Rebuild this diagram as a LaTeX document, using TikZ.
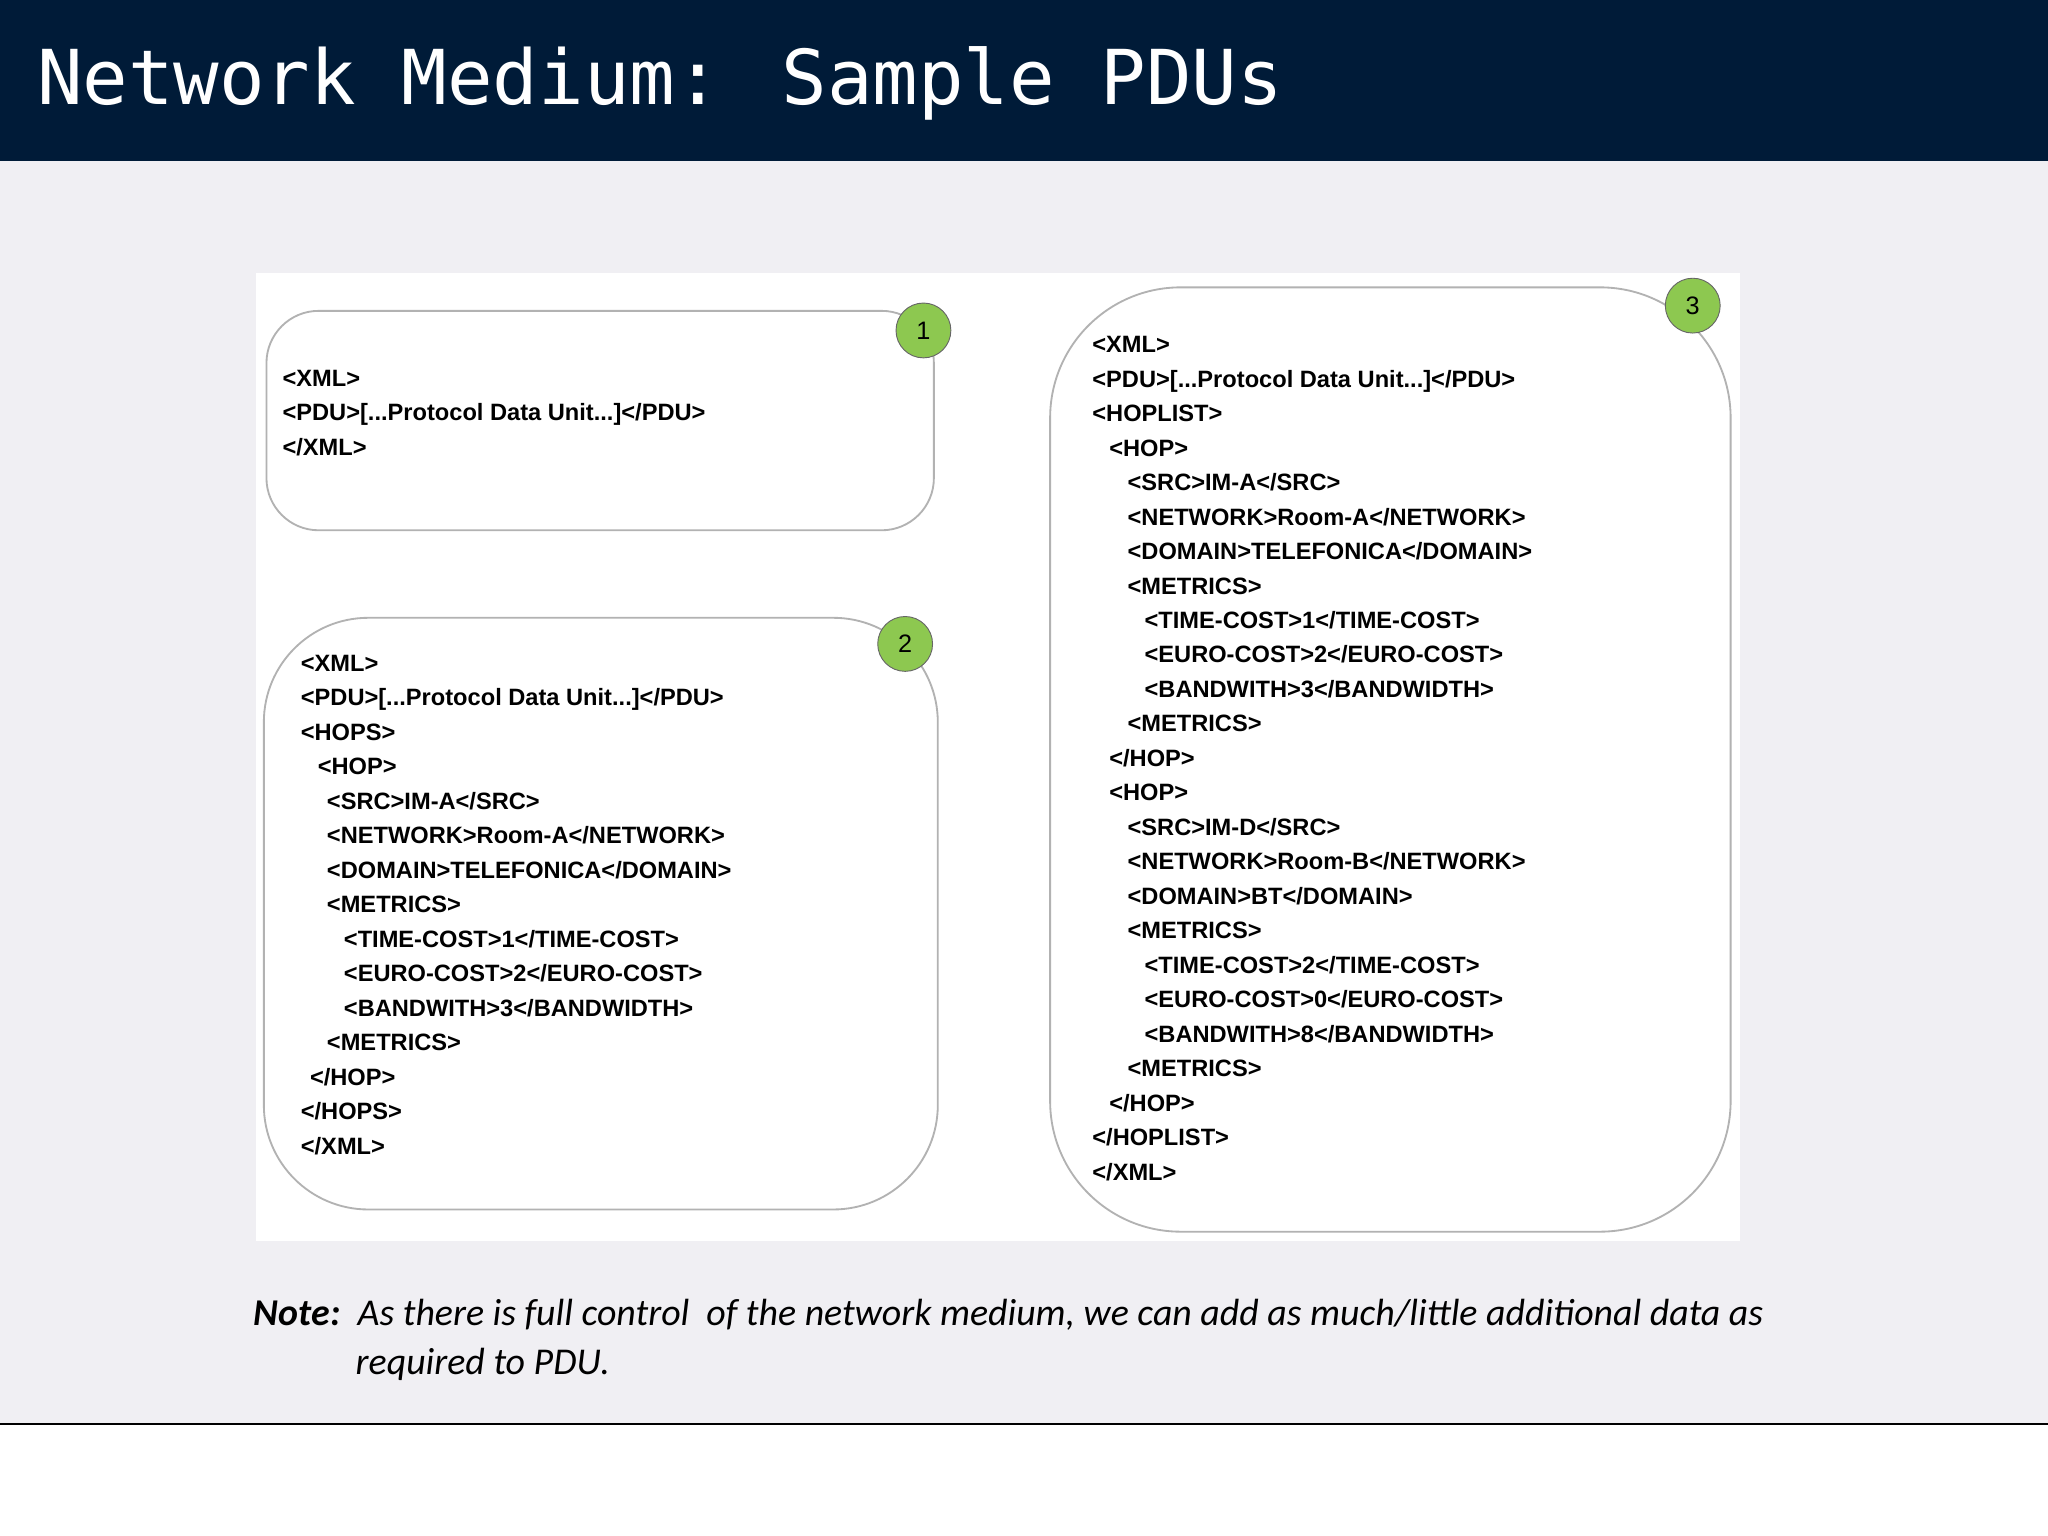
\documentclass[tikz,border=0pt]{standalone}
\usepackage{fontspec}
\setmainfont{Liberation Sans}
\newfontfamily\titlefont{DejaVu Sans Mono}
\newfontfamily\notefont{Carlito}
\definecolor{bgc}{RGB}{240,239,243}
\definecolor{navy}{RGB}{0,27,56}
\definecolor{badgec}{RGB}{141,200,80}
\newcommand\pdudots{...}
\newcommand\pduline{<PDU>[\pdudots Protocol Data Unit\pdudots]</PDU>}
\begin{document}
\begin{tikzpicture}[x=0.02cm,y=-0.02cm,
  code/.style={anchor=base west,inner sep=0pt,font=\fontsize{10.3}{12}\selectfont\bfseries},
  pdubox/.style={draw=black!30,line width=0.8pt,fill=white},
  badge/.style={circle,draw=black!60,fill=badgec,minimum size=0.84cm,inner sep=0pt,font=\fontsize{11}{12}\selectfont}]
\useasboundingbox (0,0) rectangle (1568,1176);
\fill[bgc] (0,0) rectangle (1568,1090);
\fill[white] (0,1090) rectangle (1568,1176);
\fill[navy] (0,0) rectangle (1568,123);
\draw[line width=1pt] (0,1090) -- (1568,1090);
\node[anchor=base west,inner sep=0pt,text=white,font=\titlefont\fontsize{33}{36}\selectfont] (title) at (28,80) {Network Medium: Sample PDUs};
\fill[white] (196,209) rectangle (1332,950);
\draw[pdubox,rounded corners=0.8cm] (204,238) rectangle (715,406);
\draw[pdubox,rounded corners=1.6cm] (202,473) rectangle (718,926);
\draw[pdubox,rounded corners=2cm] (804,220) rectangle (1325,943);
\node[badge] (b1) at (707,253) {1};
\node[badge] (b2) at (693,493) {2};
\node[badge] (b3) at (1296,234) {3};
% box 1
\foreach \t [count=\i] in {{<XML>},{\pduline},{</XML>}}
  \node[code] (a\i) at (216,{296+26.3*(\i-1)}) {\t};
% box 2
\foreach \x/\t [count=\i] in {230/{<XML>},230/{\pduline},230/{<HOPS>},243/{<HOP>},
 250/{<SRC>IM-A</SRC>},250/{<NETWORK>Room-A</NETWORK>},250/{<DOMAIN>TELEFONICA</DOMAIN>},250/{<METRICS>},
 263/{<TIME-COST>1</TIME-COST>},263/{<EURO-COST>2</EURO-COST>},263/{<BANDWITH>3</BANDWIDTH>},250/{<METRICS>},
 237/{</HOP>},230/{</HOPS>},230/{</XML>}}
  \node[code] (c\i) at (\x,{514+26.4*(\i-1)}) {\t};
% box 3
\foreach \x/\t [count=\i] in {836/{<XML>},836/{\pduline},836/{<HOPLIST>},849/{<HOP>},
 863/{<SRC>IM-A</SRC>},863/{<NETWORK>Room-A</NETWORK>},863/{<DOMAIN>TELEFONICA</DOMAIN>},863/{<METRICS>},
 876/{<TIME-COST>1</TIME-COST>},876/{<EURO-COST>2</EURO-COST>},876/{<BANDWITH>3</BANDWIDTH>},863/{<METRICS>},
 849/{</HOP>},849/{<HOP>},
 863/{<SRC>IM-D</SRC>},863/{<NETWORK>Room-B</NETWORK>},863/{<DOMAIN>BT</DOMAIN>},863/{<METRICS>},
 876/{<TIME-COST>2</TIME-COST>},876/{<EURO-COST>0</EURO-COST>},876/{<BANDWITH>8</BANDWIDTH>},863/{<METRICS>},
 849/{</HOP>},836/{</HOPLIST>},836/{</XML>}}
  \node[code] (d\i) at (\x,{270+26.4*(\i-1)}) {\t};
\node[anchor=base west,inner sep=0pt,font=\notefont\itshape\fontsize{16.5}{18}\selectfont] (note1) at (194,1015) {\textbf{Note:}\ \ As there is full control\ \ of the network medium, we can add as much/little additional data as};
\node[anchor=base west,inner sep=0pt,font=\notefont\itshape\fontsize{16.5}{18}\selectfont] (note2) at (272,1052) {required to PDU.};
\end{tikzpicture}
\end{document}
